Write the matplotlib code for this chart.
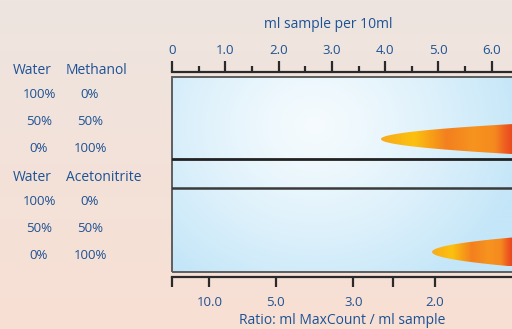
import numpy as np
import matplotlib
matplotlib.use('Agg')
import matplotlib.pyplot as plt
from matplotlib.colors import LinearSegmentedColormap
from matplotlib.path import Path
from matplotlib.patches import PathPatch, Rectangle
import matplotlib.transforms as mtransforms

plt.rcParams['font.family'] = ['Open Sans', 'DejaVu Sans']

# ---------------- data ----------------
top_ticks = [0, 1, 2, 3, 4, 5, 6]
top_tick_labels = ['0', '1.0', '2.0', '3.0', '4.0', '5.0', '6.0']
top_minor_ticks = [0.5, 1.5, 2.5, 3.5, 4.5, 5.5]
bottom_tick_pos = [0.0, 0.7, 1.95, 3.4, 4.15, 4.93]
bottom_tick_labels = ['', '10.0', '5.0', '3.0', '', '2.0']

solvents = ['Methanol', 'Acetonitrite']
water_pct = ['100%', '50%', '0%']
solvent_pct = ['0%', '50%', '100%']
group_rows = [[0, 1, 2], [4, 5, 6]]
header_rows = [-0.93, 3.07]

drop_start = [3.92, 4.88]      # ml sample per 10 ml where the zone begins
drop_center = [1.65, 5.87]
drop_halfwidth = [0.56, 0.54]

top_title = 'ml sample per 10ml'
bottom_title = 'Ratio: ml MaxCount / ml sample'

TXT = '#1d5294'
DARK = '#2a2a2a'

W, H = 512, 329
fig = plt.figure(figsize=(W / 100, H / 100), dpi=100)

# background gradient
bg = fig.add_axes([0, 0, 1, 1], zorder=0)
bg.axis('off')
top_c = np.array([238, 229, 224]) / 255
bot_c = np.array([248, 223, 211]) / 255
t = np.linspace(0, 1, 200)[:, None, None]
bgimg = top_c * (1 - t) + bot_c * t
bgimg = np.repeat(bgimg, 10, axis=1)
bg.imshow(bgimg, extent=[0, 1, 0, 1], aspect='auto', origin='upper')

# main axes (box)
x0px, x1px, y0px, y1px = 172, 512, 77, 272
ax = fig.add_axes([x0px / W, 1 - y1px / H, (x1px - x0px) / W, (y1px - y0px) / H], zorder=1)
ax.set_facecolor('none')

# box gradient
ny, nx = 200, 340
yy, xx = np.mgrid[0:1:ny * 1j, 0:1:nx * 1j]
r = np.sqrt(((xx - 0.42) / 0.62) ** 2 + ((yy - 0.25) / 0.95) ** 2)
r = np.clip(r, 0, 1)
c_in = np.array([245, 251, 254]) / 255
c_out = np.array([196, 230, 248]) / 255
img = c_in * (1 - r[..., None] ** 1.3) + c_out * r[..., None] ** 1.3
ax.imshow(img, extent=[0, 1, 0, 1], transform=ax.transAxes, aspect='auto',
          origin='upper', zorder=0)

xmax = 6.38
ax.set_xlim(0, xmax)
ax.set_ylim(6.62, -0.67)
for s in ax.spines.values():
    s.set_visible(False)
ax.set_xticks([])
ax.set_yticks([])

# drops
cmap = LinearSegmentedColormap.from_list('drop', [
    (0.0, '#f8ab1c'), (0.25, '#fcc10f'), (0.5, '#f3801f'),
    (0.7, '#f7931e'), (0.86, '#f58a1f'), (0.95, '#ee5a20'), (1.0, '#e9481c')])
for xs0, yc, hw in zip(drop_start, drop_center, drop_halfwidth):
    xs = np.linspace(xs0, xmax + 0.2, 300)
    half = hw * np.sqrt((xs - xs0) / (xmax - xs0))
    verts = np.concatenate([np.column_stack([xs, yc - half]),
                            np.column_stack([xs[::-1], yc + half[::-1]])])
    path = Path(verts, closed=True)
    patch = PathPatch(path, facecolor='none', edgecolor='none', transform=ax.transData)
    ax.add_patch(patch)
    grad = np.linspace(0, 1, 256)[None, :]
    im = ax.imshow(grad, cmap=cmap, extent=[xs0, xmax, yc + hw, yc - hw],
                   aspect='auto', zorder=2)
    im.set_clip_path(patch)

ax.set_xlim(0, xmax)
ax.set_ylim(6.62, -0.67)

# box outline and dividers
ax.add_patch(Rectangle((0, 0), 1.05, 1, transform=ax.transAxes, fill=False,
                       edgecolor='#5e5e5e', lw=1.4, zorder=5, clip_on=False))
ax.axhline(2.4, color='#222222', lw=2.0, zorder=5)
ax.axhline(3.48, color='#3a3a3a', lw=1.8, zorder=5)

# top axis
off = 5 / (y1px - y0px)
sec_top = ax.secondary_xaxis(1 + off)
sec_top.set_xticks(top_ticks, top_tick_labels)
sec_top.set_xticks(top_minor_ticks, minor=True)
sec_top.tick_params(axis='x', which='major', direction='out', length=8, width=1.6,
                    color=DARK, labelcolor=TXT, labelsize=9.5, pad=3)
sec_top.tick_params(axis='x', which='minor', direction='out', length=4.5, width=1.6,
                    color=DARK)
for s in sec_top.spines.values():
    s.set_color(DARK)
    s.set_linewidth(1.6)

sec_bot = ax.secondary_xaxis(-off)
sec_bot.set_xticks(bottom_tick_pos, bottom_tick_labels)
sec_bot.xaxis.set_minor_locator(matplotlib.ticker.NullLocator())
sec_bot.tick_params(axis='x', which='major', direction='out', length=7.5, width=1.6,
                    color=DARK, labelcolor=TXT, labelsize=9.5, pad=6)
for s in sec_bot.spines.values():
    s.set_color(DARK)
    s.set_linewidth(1.6)

fig.text(328 / W, 1 - 25 / H, top_title, color=TXT, fontsize=10, ha='center', va='center')
fig.text(342 / W, 1 - 321 / H, bottom_title, color=TXT, fontsize=10, ha='center', va='center')

# left labels
trans = mtransforms.blended_transform_factory(fig.transFigure, ax.transData)
for solv, rows, hrow in zip(solvents, group_rows, header_rows):
    fig.text(13 / W, hrow, 'Water', transform=trans, color=TXT, fontsize=10,
             ha='left', va='center')
    fig.text(66 / W, hrow, solv, transform=trans, color=TXT, fontsize=10,
             ha='left', va='center')
    for rw, wp, sp in zip(rows, water_pct, solvent_pct):
        fig.text(39 / W, rw, wp, transform=trans, color=TXT, fontsize=9.5,
                 ha='center', va='center')
        fig.text(90 / W, rw, sp, transform=trans, color=TXT, fontsize=9.5,
                 ha='center', va='center')

fig.savefig('out.png', dpi=100)
